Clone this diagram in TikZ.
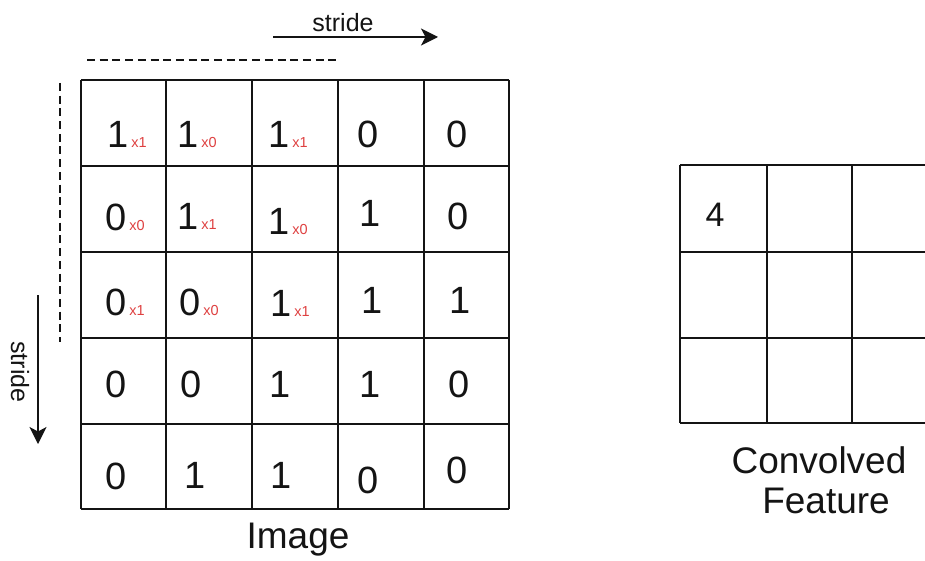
\documentclass[tikz,border=0pt]{standalone}
\usepackage{fontspec}
\setmainfont{Liberation Sans}
\usetikzlibrary{arrows.meta}
\definecolor{weightred}{RGB}{222,64,64}
\definecolor{ink}{RGB}{20,20,20}

\begin{document}
\begin{tikzpicture}[x=1pt,y=-1pt,
  gridline/.style={line width=1.6pt, draw=ink},
  digit/.style={inner sep=0pt, text=ink, font=\fontsize{38}{38}\selectfont},
  result/.style={inner sep=0pt, text=ink, font=\fontsize{34}{34}\selectfont},
  weight/.style={inner sep=0pt, anchor=base west, text=weightred, font=\fontsize{14.5}{14.5}\selectfont},
  caption/.style={inner sep=0pt, anchor=base, text=ink, font=\fontsize{37}{40}\selectfont},
  stridelabel/.style={inner sep=0pt, text=ink, font=\fontsize{25}{25}\selectfont},
  guide/.style={line width=1.3pt, draw=ink, dash pattern=on 8pt off 4.7pt},
  stridearrow/.style={line width=1.5pt, draw=ink, -{Stealth[length=17pt,width=17pt,inset=4.5pt]}}]

\useasboundingbox (0,0) rectangle (925,561);
\clip (0,0) rectangle (925,561);

% input image: 5x5 grid
\foreach \x in {81,166,252,338,424,509}
  \draw[gridline] (\x,80) -- (\x,509);
\foreach \y in {80,166,252,338,424,509}
  \draw[gridline] (81,\y) -- (509,\y);

% pixel values
\foreach \n/\x/\y/\v in {
    i11/118/134/1, i12/188/134/1, i13/279/134/1, i14/368/134/0, i15/457/134/0,
    i21/116/217/0, i22/188/216/1, i23/279/221/1, i24/370/213/1, i25/458/216/0,
    i31/116/302/0, i32/190/302/0, i33/281/303/1, i34/372/300/1, i35/460/300/1,
    i41/116/384/0, i42/191/384/0, i43/280/384/1, i44/370/384/1, i45/459/384/0,
    i51/116/476/0, i52/195/475/1, i53/281/475/1, i54/368/480/0, i55/457/470/0}
  \node[digit] (\n) at (\x,\y) {\v};

% kernel weights on the 3x3 window
\foreach \n/\w in {
    i11/1, i12/0, i13/1,
    i21/0, i22/1, i23/0,
    i31/1, i32/0, i33/1}
  \node[weight] (w\n) at ([xshift=2.5pt]\n.base east) {x\w};

% convolved feature: 3x3 grid
\foreach \x in {680,767,852,938}
  \draw[gridline] (\x,165) -- (\x,423);
\foreach \y in {165,252,338,423}
  \draw[gridline] (680,\y) -- (938,\y);
\node[result] (c11) at (715,215) {4};

% captions
\node[caption] (imagecap) at (298,548) {Image};
\node[caption] (convcap) at (819,473) {Convolved};
\node[caption] (featcap) at (826,513) {Feature};

% horizontal stride
\node[stridelabel, anchor=base] (hstride) at (343,32) {stride};
\coordinate (hfrom) at (273,37);
\coordinate (hto) at (438,37);
\draw[stridearrow] (hfrom) -- (hto);
\coordinate (hdash1) at (87,60);
\coordinate (hdash2) at (338,60);
\draw[guide] (hdash1) -- (hdash2);

% vertical stride
\node[stridelabel, rotate=-90] (vstride) at (20,372) {stride};
\coordinate (vfrom) at (38,295);
\coordinate (vto) at (38,444);
\draw[stridearrow] (vfrom) -- (vto);
\coordinate (vdash1) at (60,83);
\coordinate (vdash2) at (60,342);
\draw[guide] (vdash1) -- (vdash2);

\end{tikzpicture}
\end{document}
